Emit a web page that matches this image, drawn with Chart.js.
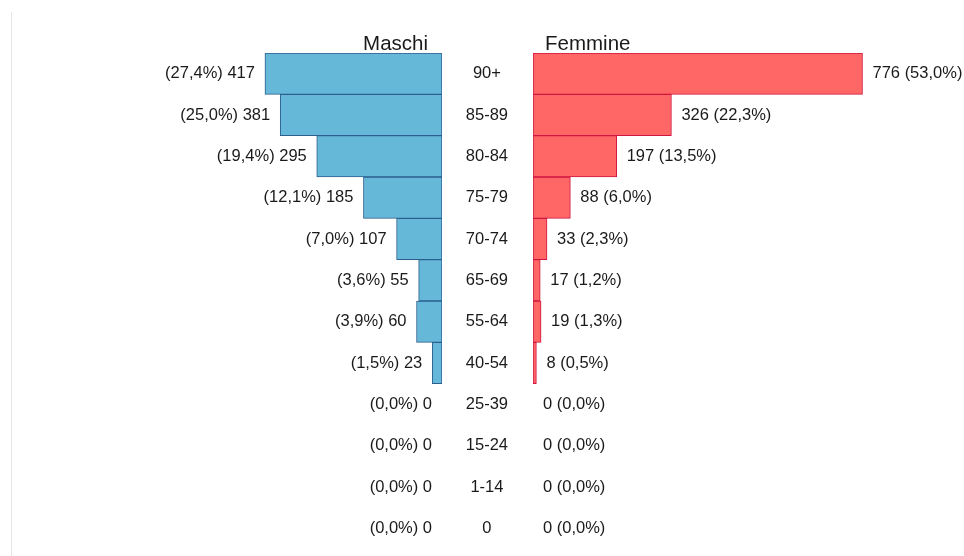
<!DOCTYPE html>
<html>
<head>
<meta charset="utf-8">
<script src="https://cdn.jsdelivr.net/npm/chart.js@4.4.1/dist/chart.umd.min.js"></script>
<style>
    body { margin: 0; background: #fff; }
    #wrap { position: relative; width: 964px; height: 556px; overflow: hidden; }
    #edge { position: absolute; left: 11px; top: 12px; bottom: 0; border-left: 1px solid #e6e6e6; }
    #leftBox { position: absolute; left: 0; top: 0; width: 442px; height: 556px; }
    #rightBox { position: absolute; left: 442px; top: 0; width: 522px; height: 556px; }
</style>
</head>
<body>
<div id="wrap">
    <div id="edge"></div>
    <div id="leftBox"><canvas id="maleChart"></canvas></div>
    <div id="rightBox"><canvas id="femaleChart"></canvas></div>
</div>
<script>
/* ============================
   Piramide età — Maschi / Femmine
   ============================ */
const AGES = ['90+', '85-89', '80-84', '75-79', '70-74', '65-69', '55-64', '40-54', '25-39', '15-24', '1-14', '0'];
const MALES = [417, 381, 295, 185, 107, 55, 60, 23, 0, 0, 0, 0];
const MALES_PCT = ['27,4', '25,0', '19,4', '12,1', '7,0', '3,6', '3,9', '1,5', '0,0', '0,0', '0,0', '0,0'];
const FEMALES = [776, 326, 197, 88, 33, 17, 19, 8, 0, 0, 0, 0];
const FEMALES_PCT = ['53,0', '22,3', '13,5', '6,0', '2,3', '1,2', '1,3', '0,5', '0,0', '0,0', '0,0', '0,0'];
const X_MAX = 1015;

const FONT = '"Liberation Sans", Arial, sans-serif';
const PAD = { top: 53, bottom: 7 };

// labels at bar ends + side heading
const barLabels = {
    id: 'barLabels',
    afterDatasetsDraw(chart, args, opts) {
        const ctx = chart.ctx;
        const area = chart.chartArea;
        const left = opts.side === 'left';
        ctx.save();
        ctx.fillStyle = '#1a1a1a';
        ctx.font = '16.5px ' + FONT;
        ctx.textBaseline = 'middle';
        ctx.textAlign = left ? 'right' : 'left';
        chart.getDatasetMeta(0).data.forEach((bar, i) => {
            const txt = opts.text(i);
            ctx.fillText(txt, left ? bar.x - 10 : bar.x + 10, bar.y);
        });
        ctx.font = '20.5px ' + FONT;
        ctx.textBaseline = 'alphabetic';
        if (left) ctx.fillText(opts.heading, area.right - 14, area.top - 3);
        else ctx.fillText(opts.heading, area.left + 12, area.top - 3);
        ctx.restore();
    }
};

function baseOptions() {
    return {
        indexAxis: 'y',
        responsive: true,
        maintainAspectRatio: false,
        animation: false,
        plugins: { legend: { display: false }, tooltip: { enabled: false } },
        datasets: { bar: { barPercentage: 1, categoryPercentage: 1, borderWidth: 1, borderSkipped: false } }
    };
}

const maleOpts = baseOptions();
maleOpts.layout = { padding: { left: 11, right: 0, top: PAD.top, bottom: PAD.bottom } };
maleOpts.scales = {
    x: { reverse: true, min: 0, max: X_MAX, display: false },
    y: { display: false }
};
maleOpts.plugins.barLabels = {
    side: 'left',
    heading: 'Maschi',
    text: i => `(${MALES_PCT[i]}%) ${MALES[i]}`
};

new Chart(document.getElementById('maleChart'), {
    type: 'bar',
    data: {
        labels: AGES,
        datasets: [{
            label: 'Maschi',
            data: MALES,
            backgroundColor: '#66b8d8',
            borderColor: '#2c5f8e'
        }]
    },
    options: maleOpts,
    plugins: [barLabels]
});

const femaleOpts = baseOptions();
femaleOpts.layout = { padding: { left: 0, right: 0, top: PAD.top, bottom: PAD.bottom } };
femaleOpts.scales = {
    x: { min: 0, max: X_MAX, display: false },
    y: {
        position: 'left',
        grid: { display: false, drawTicks: false },
        border: { display: false },
        ticks: { color: '#1a1a1a', font: { family: FONT, size: 16.5 }, crossAlign: 'center', padding: 25 },
        // fixed middle column, no extra vertical padding from tick padding
        afterFit: s => { s.width = 91; s.paddingTop = 0; s.paddingBottom = 0; }
    }
};
femaleOpts.plugins.barLabels = {
    side: 'right',
    heading: 'Femmine',
    text: i => `${FEMALES[i]} (${FEMALES_PCT[i]}%)`
};

new Chart(document.getElementById('femaleChart'), {
    type: 'bar',
    data: {
        labels: AGES,
        datasets: [{
            label: 'Femmine',
            data: FEMALES,
            backgroundColor: '#ff6666',
            borderColor: '#d0163f'
        }]
    },
    options: femaleOpts,
    plugins: [barLabels]
});
</script>
</body>
</html>
